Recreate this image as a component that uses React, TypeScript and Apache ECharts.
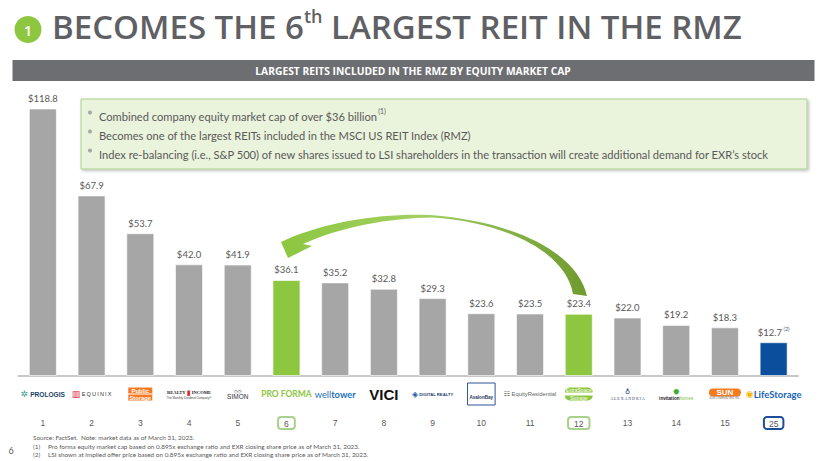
import React, { useEffect, useRef } from "react";
import * as echarts from "echarts";

// ---------- data ----------
const categories = [
  "Prologis", "Equinix", "Public Storage", "Realty Income", "Simon", "Pro Forma",
  "Welltower", "VICI", "Digital Realty", "AvalonBay", "Equity Residential",
  "Extra Space Storage", "Alexandria", "Invitation Homes", "Sun Communities", "Life Storage",
];
const marketCap = [118.8, 67.9, 53.7, 42.0, 41.9, 36.1, 35.2, 32.8, 29.3, 23.6, 23.5, 23.4, 22.0, 19.2, 18.3, 12.7];
const ranks = ["1", "2", "3", "4", "5", "6", "7", "8", "9", "10", "11", "12", "13", "14", "15", "25"];
const footnoteRefs: Record<string, string> = { "Life Storage": "(2)" };

const titleParts = ["BECOMES THE 6", "th", " LARGEST REIT IN THE RMZ"];
const bannerText = "LARGEST REITS INCLUDED IN THE RMZ BY EQUITY MARKET CAP";
const bullets = [
  ["Combined company equity market cap of over $36 billion", "(1)"],
  ["Becomes one of the largest REITs included in the MSCI US REIT Index (RMZ)", ""],
  ["Index re-balancing (i.e., S&P 500) of new shares issued to LSI shareholders in the transaction will create additional demand for EXR\u2019s stock", ""],
];
const footnotes = [
  ["", "Source: FactSet.  Note: market data as of March 31, 2023."],
  ["(1)", "Pro forma equity market cap based on 0.895x exchange ratio and EXR closing share price as of March 31, 2023."],
  ["(2)", "LSI shown at implied offer price based on 0.895x exchange ratio and EXR closing share price as of March 31, 2023."],
];
const pageNumber = "6";

// ---------- styles ----------
const GREY_BAR = "#a6a6a6";
const GREEN = "#8dc63f";
const BLUE = "#0b4f9c";
const TXT = "#595959";
const greenCats = ["Pro Forma", "Extra Space Storage"];
const blueCats = ["Life Storage"];
const boxedGreen = ["Pro Forma", "Extra Space Storage"];
const boxedBlue = ["Life Storage"];

const arrowPath =
  "M 587 296 C 578 255 520 222 430 215 " +
  "C 380 213 330 222 292 237 L 281 242 L 288 258 L 312 246 L 303 244 " +
  "C 340 227 390 218 432 217.5 C 505 222 566 252 573 294 Z";

const logoText: Record<string, string> = {
  "Prologis": "{prI|\u2732}{pro| PROLOGIS}",
  "Equinix": "{eqI|\u25A5}{eq| E\u2009Q\u2009U\u2009I\u2009N\u2009I\u2009X}",
  "Public Storage": "{ps|Public}\n{ps|Storage}",
  "Realty Income": "{ri|REALTY }{riI|\u25AE}{ri| INCOME}\n{riS|The Monthly Dividend Company\u00AE}",
  "Simon": "{siI|\u25C7\u25C7}\n{si|SIMON}",
  "Pro Forma": "{pf|PRO FORMA}",
  "Welltower": "{wt|well}{wt2|tower}",
  "VICI": "{vici|VICI}",
  "Digital Realty": "{drI|\u25C8}{dr| DIGITAL REALTY}",
  "AvalonBay": "{av|AvalonBay}",
  "Equity Residential": "{erI|\u2637}{er| EquityResidential}",
  "Extra Space Storage": "{es1|ExtraSpace}\n{es2|Storage}",
  "Alexandria": "{alI|\u2641}\n{al|A L E X A N D R I A}",
  "Invitation Homes": "{ihI|\u2739}\n{ih|invitation}{ih2|homes}",
  "Sun Communities": "{sun|SUN}\n{sunS|SUN COMMUNITIES, INC.}",
  "Life Storage": "{lsI|\u25C9}{ls|LifeStorage}",
};

const logoRich: Record<string, any> = {
  prI: { color: "#3a9a8c", fontSize: 9, fontFamily: "DejaVu Sans" },
  pro: { color: "#1d3f66", fontSize: 6.6, fontWeight: "bold", fontFamily: "Liberation Sans" },
  eqI: { color: "#e31937", fontSize: 9, fontFamily: "DejaVu Sans" },
  eq: { color: "#333", fontSize: 5.6, fontFamily: "Liberation Sans" },
  ps: { color: "#fff", backgroundColor: "#f47920", fontSize: 5.8, fontWeight: "bold", width: 24, align: "center", lineHeight: 7, fontFamily: "Liberation Sans" },
  ri: { color: "#222", fontSize: 4.6, fontWeight: "bold", fontFamily: "Liberation Serif" },
  riI: { color: "#e2231a", fontSize: 7, fontFamily: "DejaVu Sans" },
  riS: { color: "#444", fontSize: 3, fontFamily: "Liberation Sans", align: "center" },
  siI: { color: "#333", fontSize: 5, fontFamily: "DejaVu Sans", lineHeight: 5, align: "center" },
  si: { color: "#333", fontSize: 6.5, fontFamily: "Liberation Sans", align: "center" },
  pf: { color: GREEN, fontSize: 8.5, fontWeight: "bold", fontFamily: "Lato" },
  wt: { color: "#1e6fb8", fontSize: 9.3, fontFamily: "Lato" },
  wt2: { color: "#1e6fb8", fontSize: 9.3, fontWeight: "bold", fontFamily: "Lato" },
  vici: { color: "#111", fontSize: 15, fontWeight: "bold", fontFamily: "Liberation Sans" },
  drI: { color: "#1f5fae", fontSize: 8, fontFamily: "DejaVu Sans" },
  dr: { color: "#1f3d6e", fontSize: 4.2, fontWeight: "bold", fontFamily: "Liberation Sans" },
  av: { color: "#1f3864", fontSize: 4.6, fontWeight: "bold", fontFamily: "Liberation Sans", borderColor: "#2e5597", borderWidth: 1, padding: [12, 2, 5, 2] },
  erI: { color: "#555", fontSize: 7, fontFamily: "DejaVu Sans" },
  er: { color: "#666", fontSize: 5.8, fontFamily: "Liberation Sans" },
  es1: { color: "#fff", backgroundColor: GREEN, fontSize: 5, fontFamily: "Liberation Sans", width: 28, align: "center", lineHeight: 8, borderRadius: [8, 8, 0, 0] },
  es2: { color: "#fff", backgroundColor: GREEN, fontSize: 5, fontFamily: "Liberation Sans", width: 28, align: "center", lineHeight: 8, borderRadius: [0, 0, 8, 8] },
  alI: { color: "#1f3d6e", fontSize: 7, fontFamily: "DejaVu Sans", align: "center", lineHeight: 8 },
  al: { color: "#1f3d6e", fontSize: 4, fontFamily: "Liberation Serif", align: "center" },
  ihI: { color: "#3aa935", fontSize: 9, fontFamily: "DejaVu Sans", align: "center", lineHeight: 9 },
  ih: { color: "#222", fontSize: 4.6, fontWeight: "bold", fontFamily: "Liberation Sans" },
  ih2: { color: "#7cc242", fontSize: 4.6, fontFamily: "Liberation Sans" },
  sun: { color: "#fff", backgroundColor: "#f47b20", fontSize: 8, fontWeight: "bold", fontFamily: "Liberation Sans", width: 32, align: "center", borderRadius: 6, lineHeight: 9 },
  sunS: { color: "#666", fontSize: 2.6, fontFamily: "Liberation Sans", align: "center" },
  lsI: { color: "#f2b600", fontSize: 9, fontFamily: "DejaVu Sans" },
  ls: { color: "#1b63b4", fontSize: 9.5, fontWeight: "bold", fontFamily: "Lato" },
};

export default function App() {
  const ref = useRef<HTMLDivElement>(null);

  useEffect(() => {
    if (!ref.current) return;
    echarts.graphic.registerShape("curvedArrow", echarts.graphic.extendPath(arrowPath, {}) as any);
    const chart = echarts.init(ref.current, null, { renderer: "svg" });

    const barColor = (name: string) =>
      greenCats.includes(name) ? GREEN : blueCats.includes(name) ? BLUE : GREY_BAR;

    const seriesData = marketCap.map((v, i) => ({
      value: v,
      itemStyle: { color: barColor(categories[i]) },
    }));

    const graphics: any[] = [
      // title
      { type: "circle", shape: { cx: 28, cy: 29.5, r: 13.5 }, style: { fill: GREEN } },
      {
        type: "text", x: 28, y: 30,
        style: { text: "1", fill: "#fff", fontSize: 15, fontFamily: "Open Sans", fontWeight: 600, align: "center", verticalAlign: "middle" },
      },
      {
        type: "text", x: 52, y: 26, scaleX: 1,
        style: {
          text: `{t|${titleParts[0]}}{s|${titleParts[1]}}{t|${titleParts[2]}}`,
          align: "left", verticalAlign: "middle",
          rich: {
            t: { fontSize: 33, fontFamily: "Open Sans", fontWeight: 600, fill: "#5f6064", lineHeight: 38 },
            s: { fontSize: 18, fontFamily: "Open Sans", fontWeight: 600, fill: "#5f6064", lineHeight: 18, verticalAlign: "top" },
          },
        },
      },
      // banner
      { type: "rect", shape: { x: 12.5, y: 60, width: 802, height: 21 }, style: { fill: "#6d6e71" } },
      {
        type: "text", x: 413, y: 70.5, scaleX: 0.98,
        style: { text: bannerText, fill: "#fff", fontSize: 10.5, fontFamily: "Open Sans", fontWeight: "bold", align: "center", verticalAlign: "middle" },
      },
      // callout box
      {
        type: "rect", shape: { x: 81, y: 99, width: 726, height: 70 },
        style: { fill: "#eaf3dc", stroke: "#a9d08e", lineWidth: 1, shadowColor: "rgba(0,0,0,0.25)", shadowBlur: 3, shadowOffsetX: 1.5, shadowOffsetY: 1.5 },
      },
      // arrow
      {
        type: "curvedArrow", x: 0, y: 0, scaleX: 1, scaleY: 1,
        style: {
          fill: new echarts.graphic.LinearGradient(0, 0, 1, 0, [
            { offset: 0, color: "#8dc63f" },
            { offset: 0.45, color: "#a2d062" },
            { offset: 1, color: "#6e9a2e" },
          ]),
        },
      },
      // page number
      { type: "text", x: 11, y: 450, style: { text: pageNumber, fill: TXT, fontSize: 9, fontFamily: "Lato", align: "center", verticalAlign: "middle" } },
    ];

    bullets.forEach((b, i) => {
      const y = 115.5 + i * 19;
      graphics.push({ type: "circle", shape: { cx: 90, cy: y - 3, r: 2 }, style: { fill: "#a6a6a6" } });
      graphics.push({
        type: "text", x: 99, y, scaleX: 0.905,
        style: {
          text: b[1] ? `{a|${b[0]}}{s|${b[1]}}` : `{a|${b[0]}}`,
          align: "left", verticalAlign: "middle",
          rich: {
            a: { fontSize: 12.3, fontFamily: "Lato", fill: TXT, lineHeight: 16 },
            s: { fontSize: 7.5, fontFamily: "Lato", fill: TXT, lineHeight: 9, verticalAlign: "top" },
          },
        },
      });
    });

    footnotes.forEach((f, i) => {
      const y = 437.5 + i * 8.7;
      if (f[0]) {
        graphics.push({ type: "text", x: 33, y, style: { text: f[0], fill: TXT, fontSize: 6.4, fontFamily: "Lato", align: "left", verticalAlign: "middle" } });
        graphics.push({ type: "text", x: 48, y, style: { text: f[1], fill: TXT, fontSize: 6.4, fontFamily: "Lato", align: "left", verticalAlign: "middle" } });
      } else {
        graphics.push({ type: "text", x: 33, y, style: { text: f[1], fill: TXT, fontSize: 6.4, fontFamily: "Lato", align: "left", verticalAlign: "middle" } });
      }
    });

    const option: any = {
      animation: false,
      backgroundColor: "#ffffff",
      grid: { left: 18.5, right: 22, top: 109, bottom: 85, containLabel: false },
      xAxis: [
        {
          type: "category",
          data: categories,
          position: "bottom",
          axisLine: { show: true, lineStyle: { color: "#c8c8c8", width: 2 } },
          axisTick: { show: false },
          axisLabel: {
            interval: 0,
            margin: 18,
            verticalAlign: "middle",
            formatter: (_v: string, i: number) => logoText[categories[i]],
            rich: logoRich,
          },
        },
        {
          type: "category",
          data: ranks,
          position: "bottom",
          axisLine: { show: false },
          axisTick: { show: false },
          axisLabel: {
            interval: 0,
            margin: 47,
            verticalAlign: "middle",
            formatter: (v: string, i: number) => {
              const name = categories[i];
              if (boxedGreen.includes(name)) return `{bg|${v}}`;
              if (boxedBlue.includes(name)) return `{bb|${v}}`;
              return `{n|${v}}`;
            },
            rich: {
              n: { color: TXT, fontSize: 8.5, fontFamily: "Liberation Sans" },
              bg: { color: TXT, fontSize: 8.5, fontFamily: "Liberation Sans", borderColor: "#a9d18e", borderWidth: 2, borderRadius: 3, padding: [2, 6, 1, 6] },
              bb: { color: TXT, fontSize: 8.5, fontFamily: "Liberation Sans", borderColor: "#1f4e99", borderWidth: 2, borderRadius: 3, padding: [2, 5, 1, 5] },
            },
          },
        },
      ],
      yAxis: { type: "value", min: 0, max: 100.4, show: false, splitLine: { show: false } },
      series: [
        {
          type: "bar",
          xAxisIndex: 0,
          data: seriesData,
          barWidth: 28,
          clip: true,
          itemStyle: { borderColor: "rgba(255,255,255,0.6)", borderWidth: 1 },
          label: {
            show: true,
            position: "top",
            distance: 4,
            formatter: (p: any) => {
              const ref2 = footnoteRefs[categories[p.dataIndex]];
              const txt = `$${Number(p.value).toFixed(1)}`;
              return ref2 ? `{v|${txt}}{s| ${ref2}}` : `{v|${txt}}`;
            },
            rich: {
              v: { color: TXT, fontSize: 9.5, fontFamily: "Lato", lineHeight: 12 },
              s: { color: TXT, fontSize: 5.5, fontFamily: "Lato", lineHeight: 6, verticalAlign: "top" },
            },
          },
        },
      ],
      graphic: graphics,
    };

    chart.setOption(option);
    return () => chart.dispose();
  }, []);

  return <div ref={ref} style={{ position: "absolute", left: 0, top: 0, width: 820, height: 461 }} />;
}
